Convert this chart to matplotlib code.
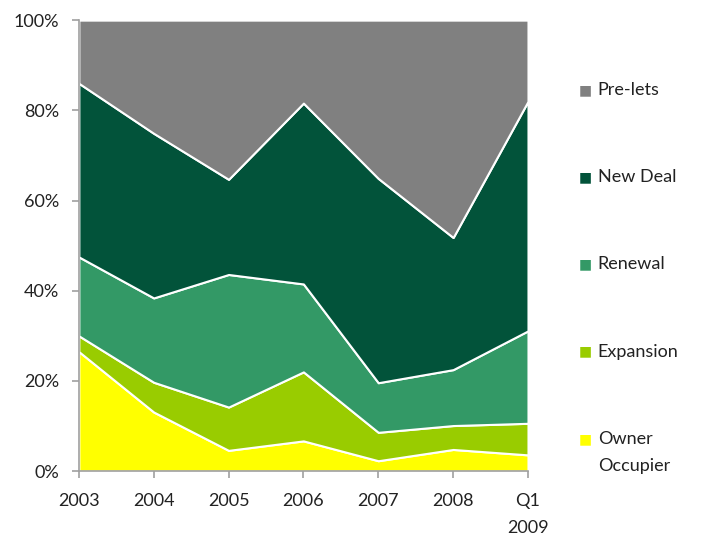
import matplotlib.pyplot as plt
import numpy as np

years = ['2003', '2004', '2005', '2006', '2007', '2008', 'Q1\n2009']
owner = [26.5, 13.1, 4.6, 6.7, 2.3, 4.8, 3.6]
expansion = [3.5, 6.6, 9.6, 15.3, 6.3, 5.3, 7.0]
renewal = [17.5, 18.7, 29.4, 19.5, 11.0, 12.4, 20.5]
new_deal = [38.5, 36.5, 21.1, 40.1, 45.3, 29.3, 50.9]
pre_lets = [14.0, 25.1, 35.3, 18.4, 35.1, 48.2, 18.0]

labels = ['Owner\nOccupier', 'Expansion', 'Renewal', 'New Deal', 'Pre-lets']
colors = ['#ffff00', '#99cc00', '#339966', '#02533a', '#808080']

plt.rcParams['font.family'] = ['Lato', 'DejaVu Sans']
plt.rcParams['font.size'] = 13

fig = plt.figure(figsize=(7.04, 5.44), dpi=100)
ax = fig.add_axes([0.112, 0.134, 0.638, 0.829])

x = np.arange(len(years))
data = np.array([owner, expansion, renewal, new_deal, pre_lets])
tot = data.sum(axis=0)
data = data / tot * 100

ax.stackplot(x, data, colors=colors, edgecolor='white', linewidth=1.5)

ax.set_xlim(0, len(years) - 1)
ax.set_ylim(0, 100)
ax.set_yticks(range(0, 101, 20))
ax.set_yticklabels([f'{v}%' for v in range(0, 101, 20)], color='#222222')
ax.set_xticks(x)
ax.set_xticklabels(years, color='#222222', linespacing=1.85)
for s in ['top', 'right']:
    ax.spines[s].set_visible(False)
for s in ['left', 'bottom']:
    ax.spines[s].set_color('#a0a0a0')
    ax.spines[s].set_linewidth(1.2)
ax.tick_params(axis='both', direction='out', length=5, color='#a0a0a0', width=1.2)
ax.tick_params(axis='x', pad=11)
ax.tick_params(axis='y', pad=9)

# legend drawn by hand, top entry first
y0 = 1 - 90 / 544
step = 87.2 / 544
for i, (lab, c) in enumerate(zip(labels[::-1], colors[::-1])):
    yy = y0 - i * step
    fig.text(0.822, yy, '\u25a0', color=c, fontsize=10, va='center', ha='left',
             family='DejaVu Sans')
    fig.text(0.849, yy, lab.split('\n')[0], color='#222222', va='center', ha='left')
    if '\n' in lab:
        fig.text(0.849, yy - 27 / 544, lab.split('\n')[1], color='#222222',
                 va='center', ha='left')

fig.savefig('out.png', dpi=100)
